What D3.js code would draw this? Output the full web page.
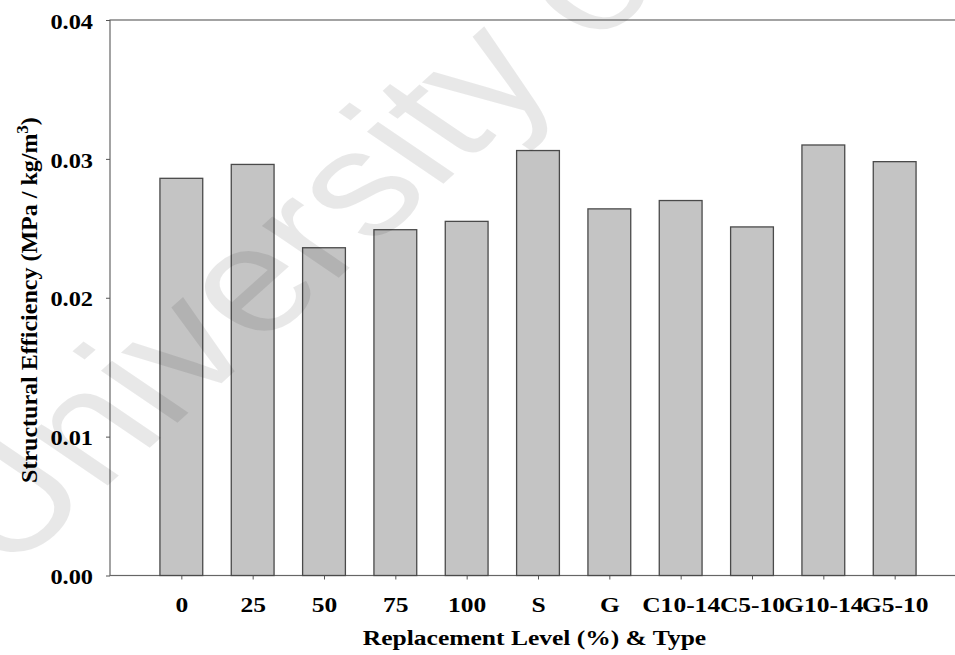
<!DOCTYPE html>
<html><head><meta charset="utf-8">
<script src="https://cdn.jsdelivr.net/npm/d3@7"></script>
<style>body{margin:0;background:#fff} svg{display:block}</style>
</head><body><svg id="c" width="955" height="655"></svg>
<script>
const categories = ["0","25","50","75","100","S","G","C10-14","C5-10","G10-14","G5-10"];
const values = [0.0286,0.0296,0.0236,0.0249,0.0255,0.0306,0.0264,0.0270,0.0251,0.0310,0.0298];
const yTicks = [0,0.01,0.02,0.03,0.04];
const xTitle = "Replacement Level (%) & Type";
const yTitleMain = "Structural Efficiency (MPa / kg/m";
const yTitleSup = "3";
const yTitleEnd = ")";
const watermark = "University of Malaya";

const svg = d3.select("#c");
const L = 110, R = 966, T = 20, B = 575.5;
const SX = 1.16;
const serif = "'Liberation Serif','Times New Roman',serif";

const x = d3.scalePoint().domain(categories).range([L, R]).padding(1);
const y = d3.scaleLinear().domain([0, 0.04]).range([B, T]);
const bw = x.step() * 0.6;

// frame
svg.append("rect").attr("x", L).attr("y", T).attr("width", R - L).attr("height", B - T)
  .attr("fill", "none").attr("stroke", "#666").attr("stroke-width", 1.2);

// bars
svg.append("g").selectAll("rect").data(categories).join("rect")
  .attr("x", d => x(d) - bw / 2)
  .attr("y", (d, i) => y(values[i]))
  .attr("width", bw)
  .attr("height", (d, i) => y(0) - y(values[i]))
  .attr("fill", "#c4c4c4").attr("stroke", "#4a4a4a").attr("stroke-width", 1.3);

// y axis
const gy = svg.append("g").attr("transform", `translate(${L},0)`)
  .call(d3.axisLeft(y).tickValues(yTicks).tickSize(4).tickFormat(d3.format(".2f")));
gy.select(".domain").remove();
gy.selectAll(".tick line").attr("stroke", "#555");
gy.selectAll(".tick text")
  .attr("x", -17 / SX).attr("dy", null).attr("y", 8.2)
  .attr("transform", `scale(${SX},1)`)
  .attr("font-family", serif).attr("font-weight", "bold").attr("font-size", 21).attr("fill", "#000");

// x axis
const gx = svg.append("g").attr("transform", `translate(0,${B})`)
  .call(d3.axisBottom(x).tickSize(4));
gx.select(".domain").remove();
gx.selectAll(".tick line").attr("stroke", "#555");
gx.selectAll(".tick text")
  .attr("y", 36.5).attr("dy", null)
  .attr("transform", `scale(${SX},1)`)
  .attr("font-family", serif).attr("font-weight", "bold").attr("font-size", 22).attr("fill", "#000");

// x title
svg.append("text")
  .attr("transform", `translate(534.5,645) scale(${SX},1)`)
  .attr("text-anchor", "middle")
  .attr("font-family", serif).attr("font-weight", "bold").attr("font-size", 22)
  .text(xTitle);

// y title
const yt = svg.append("text")
  .attr("transform", "translate(37,300) rotate(-90)")
  .attr("text-anchor", "middle")
  .attr("font-family", serif).attr("font-weight", "bold").attr("font-size", 24);
yt.append("tspan").text(yTitleMain);
yt.append("tspan").attr("dy", -9).attr("font-size", 17).text(yTitleSup);
yt.append("tspan").attr("dy", 9).text(yTitleEnd);

// watermark
svg.append("text")
  .attr("transform", "translate(8,575) scale(1.28,1) rotate(-49)")
  .attr("font-family", "'Liberation Sans',Arial,sans-serif")
  .attr("font-size", 150)
  .attr("fill", "#000").attr("fill-opacity", 0.09)
  .text(watermark);
</script></body></html>
